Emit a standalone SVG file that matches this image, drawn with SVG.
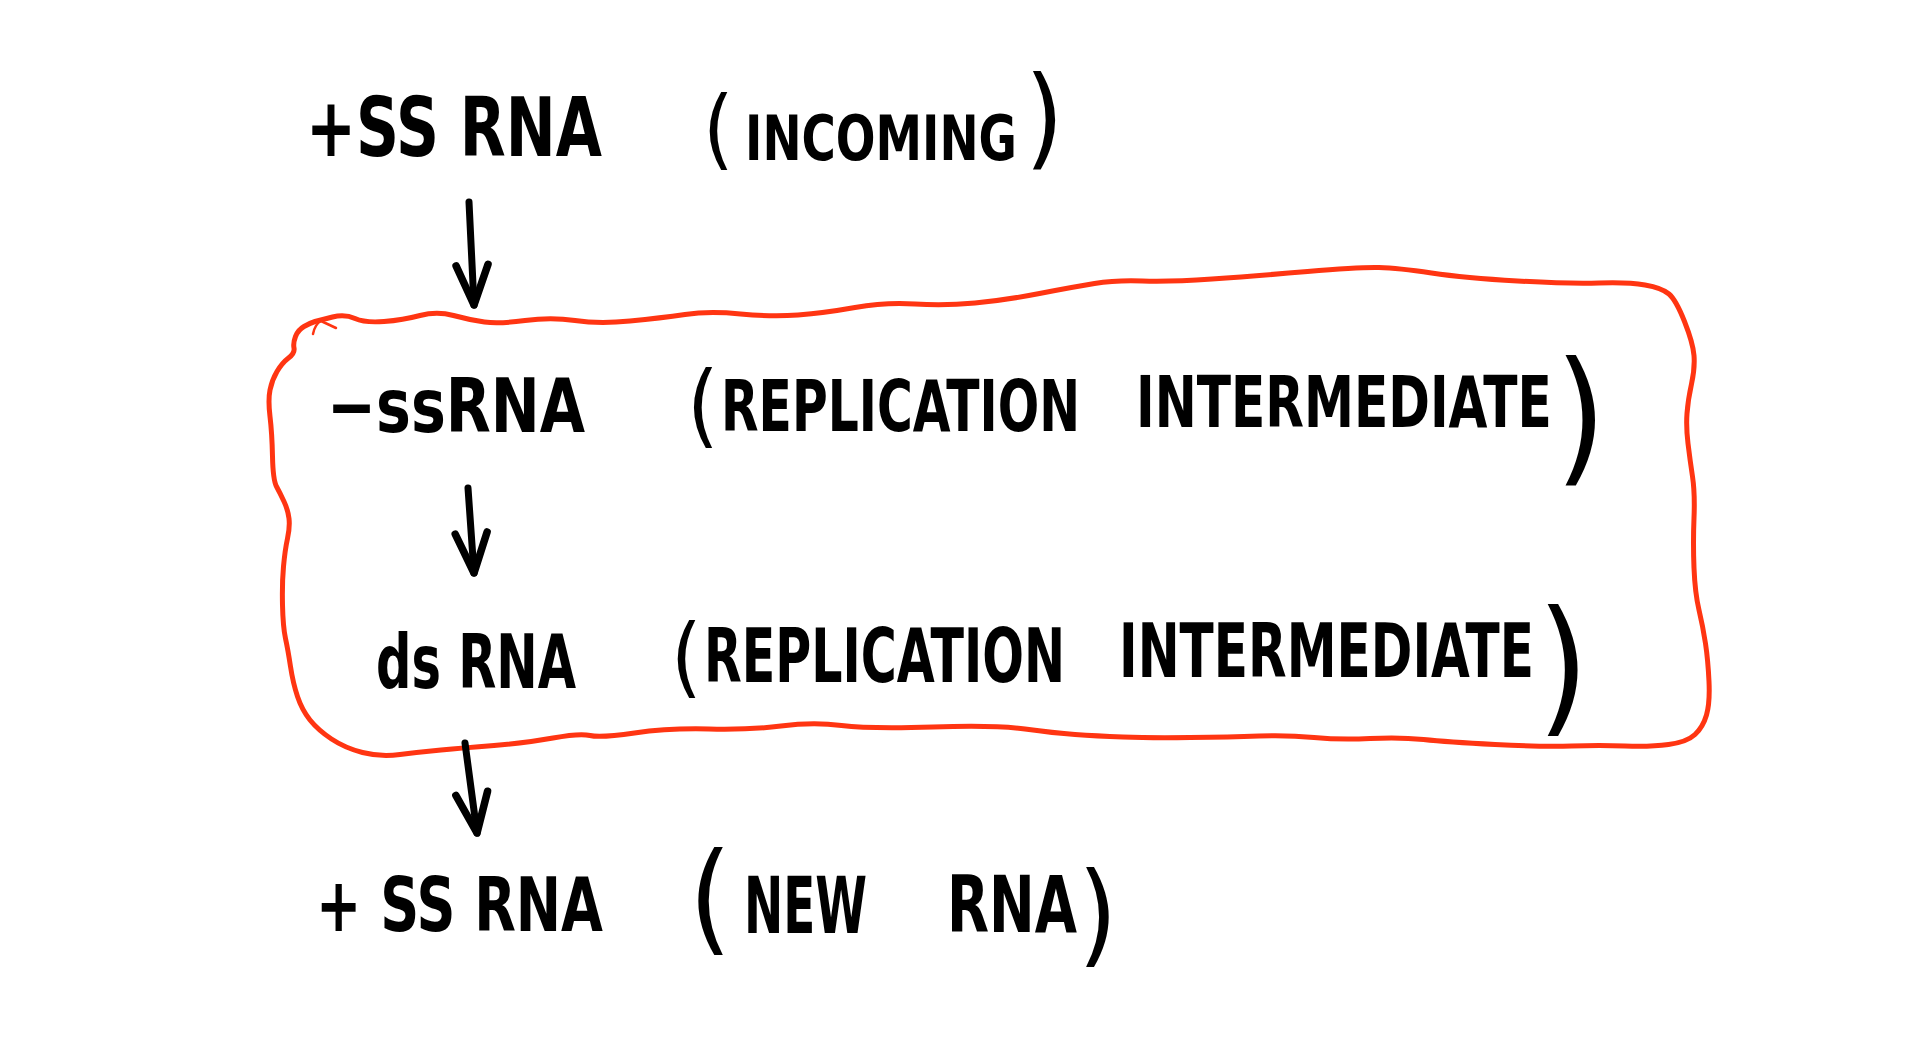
<svg xmlns="http://www.w3.org/2000/svg" width="1920" height="1037" viewBox="0 0 1920 1037">
<style>
.t{font-family:'DejaVu Sans Condensed','DejaVu Sans',sans-serif;font-weight:bold;fill:#000;}
.p{font-family:'DejaVu Sans Condensed','DejaVu Sans',sans-serif;font-weight:normal;fill:#000;}
.conn{fill:none;stroke:#000;stroke-width:7;stroke-linecap:round;stroke-linejoin:round;}
.box{fill:none;stroke:#ff3512;stroke-width:5;stroke-linecap:round;stroke-linejoin:round;}
</style>
<defs>
<marker id="ah" markerUnits="userSpaceOnUse" markerWidth="60" markerHeight="60" refX="0" refY="0" orient="auto" overflow="visible">
<path d="M-40,-16 L0,0 L-40,16" fill="none" stroke="#000" stroke-width="7.5" stroke-linecap="round" stroke-linejoin="round"/>
</marker>
</defs>
<rect width="1920" height="1037" fill="#fff"/>
<g id="replication-box">
<path class="box" d="M315,321.5 Q320,320 332.5,317 Q345,314 355,318.5 Q365,323 384,321.5 Q403,320 420,315.5 Q437,311 453.5,315.5 Q470,320 484.5,322 Q499,324 525,320.5 Q551,317 575,320.5 Q599,324 630,321 Q661,318 685,314.5 Q709,311 740.5,314 Q772,317 798,315 Q824,313 855,307.5 Q886,302 915,304 Q944,306 975,303 Q1006,300 1039.5,293.5 Q1073,287 1094.5,283.5 Q1116,280 1142.5,281 Q1169,282 1212,279 Q1255,276 1307.5,271.5 Q1360,267 1379,267.5 Q1398,268 1431.5,273 Q1465,278 1517.5,281 Q1570,284 1599,283 Q1628,282 1645,285 Q1662,288 1669,294 Q1676,300 1684.5,321.5 Q1693,343 1694,355.5 Q1695,368 1691.5,384 Q1688,400 1687,413.5 Q1686,427 1688,443.5 Q1690,460 1692.5,476.5 Q1695,493 1694,518 Q1693,543 1694,568 Q1695,593 1699,610 Q1703,627 1705.5,643.5 Q1708,660 1709,681.5 Q1710,703 1706.5,715 Q1703,727 1695,734.5 Q1687,742 1668.5,744.5 Q1650,747 1625,746 Q1600,745 1571.5,746 Q1543,747 1495,744.5 Q1447,742 1423.5,739.5 Q1400,737 1370,738.5 Q1340,740 1314,737.5 Q1288,735 1259,736 Q1230,737 1190,737.5 Q1150,738 1123,737 Q1096,736 1075,734.5 Q1054,733 1025,729 Q996,725 933,727 Q870,729 841.5,725.5 Q813,722 781,726 Q749,730 709,729 Q669,728 634.5,733 Q600,738 590,735.5 Q580,733 553,738 Q526,743 494,745.5 Q462,748 441,750 Q420,752 400,754.5 Q380,757 362.5,752.5 Q345,748 331.5,739 Q318,730 310,720 Q302,710 297.5,696.5 Q293,683 290.5,666.5 Q288,650 285.5,638.5 Q283,627 282.5,605 Q282,583 283.5,566.5 Q285,550 287.5,538.5 Q290,527 289,518.5 Q288,510 284,501.5 Q280,493 276.5,486.5 Q273,480 272.5,456.5 Q272,433 270,416.5 Q268,400 270,390 Q272,380 277,371.5 Q282,363 288.5,358 Q295,353 294,348 Q293,343 295.5,336.5 Q298,330 304,326.5 Q310,323 315,321.5 Z"/>
<path class="box" style="stroke-width:2.5" d="M313,334 Q315,324 321,321 L336,328"/>
</g>
<g id="connectors">
<path class="conn" d="M469,202 L474,305" marker-end="url(#ah)"/>
<path class="conn" d="M468,488 L474,573" marker-end="url(#ah)"/>
<path class="conn" d="M465,743 L477,833" marker-end="url(#ah)"/>
</g>
<g id="incoming">
<text class="t" transform="translate(306,156) scale(0.8,1)" font-size="82" textLength="370" lengthAdjust="spacingAndGlyphs">+SS RNA</text>
<text class="p" x="703" y="158" font-size="87">(</text>
<text class="t" transform="translate(745,160) scale(0.824,1)" font-size="63" textLength="330" lengthAdjust="spacingAndGlyphs">INCOMING</text>
<text class="p" x="1025" y="155" font-size="110">)</text>
</g>
<g id="minus-ssrna">
<text class="t" transform="translate(327,432) scale(0.878,1)" font-size="74" textLength="294" lengthAdjust="spacingAndGlyphs">−ssRNA</text>
<text class="p" x="687" y="436" font-size="90">(</text>
<text class="t" transform="translate(721,431) scale(0.744,1)" font-size="72" textLength="482.5" lengthAdjust="spacingAndGlyphs">REPLICATION</text>
<text class="t" transform="translate(1136,427) scale(0.767,1)" font-size="72" textLength="542" lengthAdjust="spacingAndGlyphs">INTERMEDIATE</text>
<text class="p" x="1555" y="466" font-size="146">)</text>
</g>
<g id="dsrna">
<text class="t" transform="translate(376,688) scale(0.733,1)" font-size="75" textLength="273" lengthAdjust="spacingAndGlyphs">ds RNA</text>
<text class="p" x="671" y="686" font-size="87">(</text>
<text class="t" transform="translate(704,682) scale(0.728,1)" font-size="74" textLength="496" lengthAdjust="spacingAndGlyphs">REPLICATION</text>
<text class="t" transform="translate(1119,677) scale(0.745,1)" font-size="74" textLength="557" lengthAdjust="spacingAndGlyphs">INTERMEDIATE</text>
<text class="p" x="1537" y="717" font-size="148">)</text>
</g>
<g id="new-rna">
<text class="t" transform="translate(316,931) scale(0.795,1)" font-size="75" textLength="361" lengthAdjust="spacingAndGlyphs">+ SS RNA</text>
<text class="p" x="689" y="939" font-size="121">(</text>
<text class="t" transform="translate(744,933) scale(0.669,1)" font-size="78" textLength="184" lengthAdjust="spacingAndGlyphs">NEW</text>
<text class="t" transform="translate(947,932) scale(0.778,1)" font-size="78" textLength="167" lengthAdjust="spacingAndGlyphs">RNA</text>
<text class="p" x="1078" y="952" font-size="112">)</text>
</g>
</svg>
